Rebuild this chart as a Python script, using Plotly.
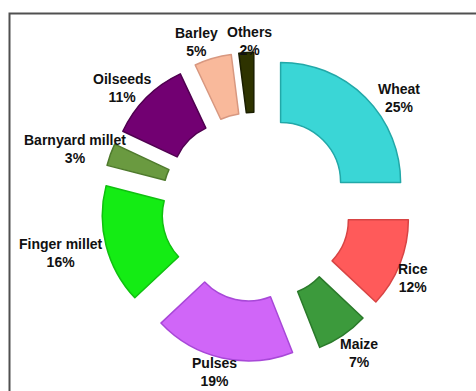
import math
import plotly.graph_objects as go

W, H = 476, 391

categories = ["Wheat", "Rice", "Maize", "Pulses", "Finger millet",
              "Barnyard millet", "Oilseeds", "Barley", "Others"]
shares = [25, 12, 7, 19, 16, 3, 11, 5, 2]

# styling
colors = ["#3AD6D6", "#FF5A5A", "#3C9A3C", "#D066F8", "#14EC14",
          "#6A9A40", "#720072", "#F9B99B", "#2E3300"]
line_colors = ["#22A8A8", "#D84444", "#2A7A2A", "#A848D8", "#10C010",
               "#4E7A2C", "#500050", "#D89880", "#1A1E00"]
label_dist = [146, 137, 144, 135, 166, 155, 144, 141, 131]      # px from slice centre
label_turn = [9.5, 3.4, -1.3, 1.9, 1.4, -2.5, -4.2, -4.5, 1.9]  # degrees

# geometry (pixels)
cx, cy = 256, 207
R = 120
pull = 0.29
half = R * (1 + pull)

fig = go.Figure(go.Pie(
    labels=categories,
    values=shares,
    sort=False,
    direction="clockwise",
    rotation=0,
    hole=0.5,
    pull=[pull] * len(shares),
    marker=dict(colors=colors, line=dict(color=line_colors, width=1.5)),
    textinfo="none",
    showlegend=False,
    hoverinfo="label+percent",
    domain=dict(x=[(cx - half) / W, (cx + half) / W],
                y=[1 - (cy + half) / H, 1 - (cy - half) / H]),
))

# labels placed around each (pulled) slice, derived from the data
total = sum(shares)
cum = 0
for name, v, dist, turn in zip(categories, shares, label_dist, label_turn):
    mid = (cum + v / 2) / total * 2 * math.pi
    cum += v
    ux, uy = math.sin(mid), -math.cos(mid)
    px = cx + pull * R * ux
    py = cy + pull * R * uy
    a = mid + math.radians(turn)
    lx = px + dist * math.sin(a)
    ly = py - dist * math.cos(a)
    pct = round(v / total * 100)
    fig.add_annotation(
        x=lx / W, y=1 - ly / H, xref="paper", yref="paper",
        text=f"<b>{name}</b><br><b>{pct}%</b>",
        showarrow=False, xanchor="center", yanchor="middle",
        font=dict(family="Liberation Sans, Arial, sans-serif", size=14, color="#111111"),
    )

fig.add_shape(type="rect", xref="paper", yref="paper",
              x0=9.5 / W, x1=490 / W, y0=1 - 410 / H, y1=1 - 13.5 / H,
              line=dict(color="#505050", width=2), fillcolor="rgba(0,0,0,0)",
              layer="below")

fig.update_layout(
    width=W, height=H,
    margin=dict(l=0, r=0, t=0, b=0, autoexpand=False),
    paper_bgcolor="white",
    plot_bgcolor="white",
)

fig.write_html("out.html")
